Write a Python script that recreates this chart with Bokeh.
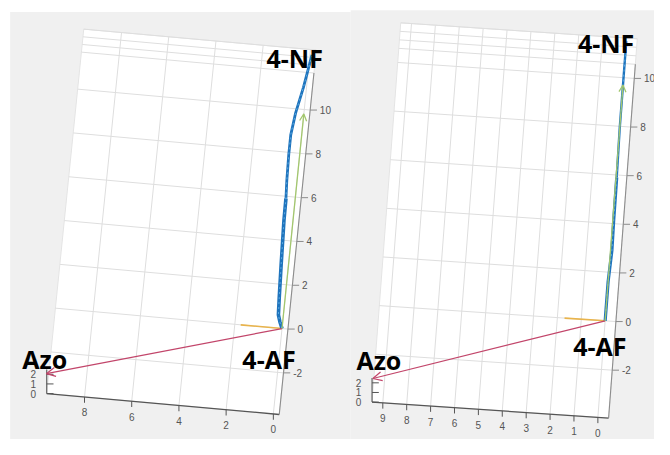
import numpy as np
from bokeh.plotting import figure
from bokeh.models import Range1d, Arrow, OpenHead
from bokeh.core.properties import value
from bokeh.embed import file_html
from bokeh.resources import INLINE

# ---------------- data ----------------
left_x_ticks = [0, 2, 4, 6, 8]
right_x_ticks = [0, 1, 2, 3, 4, 5, 6, 7, 8, 9]
z_ticks = [-2, 0, 2, 4, 6, 8, 10]
y_ticks = [0, 1, 2]

# 4-AF -> 4-NF trajectories (x, z)
left_path_z = [0.0, 0.3, 0.6, 1.4, 2.9, 4.9, 5.9, 6.7, 7.9, 8.8, 9.8, 11.0, 12.5]
left_path_x = [0.0, 0.12, 0.21, 0.25, 0.31, 0.38, 0.39, 0.43, 0.46, 0.46, 0.35, 0.13, -0.09]
right_path_z = [0.0, 1.6, 2.9, 4.1, 5.9, 7.9, 9.6, 11.5]
right_path_x = [0.0, 0.0, -0.06, -0.04, -0.03, 0.0, 0.0, 0.0]

# direction vectors from 4-AF (x, z)
left_azo = (9.7, -3.0)
right_azo = (9.49, -3.0)
left_yellow = (1.75, 0.0)
right_yellow = (1.7, 0.0)
left_green = (0.0, 9.8)
right_green = (0.0, 9.7)

labels = ["4-NF", "4-AF", "Azo"]

# ---------------- layout (screen projection of each 3-D panel) ----------------
LEFT = dict(o=(291, 340), ex=(-24.4, -2.2), ez=(2.3, -22.7), xz=-0.25, xmax=9.6,
            zmin=-3.9, ztop=11.69, band=0.35, ypx=10)
RIGHT = dict(o=(625, 332), ex=(-24.7, -1.67), ez=(1.9, -25.2), xz=-0.45, xmax=9.45,
             zmin=-3.97, ztop=10.58, band=0.35, ypx=10)

W, H = 654, 439
p = figure(width=W, height=H, output_backend="svg", toolbar_location=None,
           x_range=Range1d(0, 676), y_range=Range1d(455, 0),
           min_border=0, background_fill_color="white", border_fill_color="white")
p.axis.visible = False
p.grid.visible = False
p.outline_line_color = None

# panel backgrounds
p.quad(left=[10], right=[362], top=[12], bottom=[470], fill_color="#f0f0f0", line_color=None)
p.quad(left=[362], right=[700], top=[10], bottom=[470], fill_color="#f0f0f0", line_color=None)

GRID = "#dedede"
AX = "#555555"
ZAX = "#8c8c8c"
TICKC = "#555555"
TFONT = value("Liberation Sans")
BIG = value("Open Sans")


def make_proj(c):
    def proj(X, Z):
        X = np.asarray(X, dtype=float)
        Z = np.asarray(Z, dtype=float)
        return (c["o"][0] + X * c["ex"][0] + Z * c["ez"][0],
                c["o"][1] + X * c["ex"][1] + Z * c["ez"][1])
    return proj


def draw_panel(c, xticks, path_x, path_z, azo, yel, grn, lab_off, thick):
    proj = make_proj(c)
    xz, xmax, zmin, ztop, band = c["xz"], c["xmax"], c["zmin"], c["ztop"], c["band"]
    zedge = ztop + 3 * band
    # white box
    bx, by = proj([xz, xmax, xmax, xz], [zmin, zmin, zedge, zedge])
    p.patch(list(bx), list(by), fill_color="white", line_color="#e4e4e4", line_width=1)
    # vertical grid
    xs, ys = [], []
    for xv in xticks:
        gx, gy = proj([xv, xv], [zmin, zedge])
        xs.append(list(gx)); ys.append(list(gy))
    # horizontal grid
    for zv in z_ticks:
        gx, gy = proj([xz, xmax], [zv, zv])
        xs.append(list(gx)); ys.append(list(gy))
    # ceiling band lines
    for k in range(4):
        zv = ztop + k * band
        gx, gy = proj([xz, xmax], [zv, zv])
        xs.append(list(gx)); ys.append(list(gy))
    p.multi_line(xs, ys, line_color=GRID, line_width=1)

    # axes lines
    ax_x, ax_y = proj([xz, xmax], [zmin, zmin])
    p.line(list(ax_x), list(ax_y), line_color=AX, line_width=1.3)
    zx, zy = proj([xz, xz], [zmin, ztop])
    p.line(list(zx), list(zy), line_color=ZAX, line_width=1.1)
    yb_x, yb_y = proj([xmax], [zmin])
    yb_x, yb_y = float(yb_x[0]), float(yb_y[0])
    p.line([yb_x, yb_x], [yb_y, yb_y - 2.5 * c["ypx"]], line_color=AX, line_width=1.1)

    # z ticks
    tx, ty = proj([xz] * len(z_ticks), z_ticks)
    p.segment(x0=list(tx), y0=list(ty), x1=list(tx + 7), y1=list(ty), line_color=ZAX, line_width=1)
    p.text(x=list(tx + 10), y=list(ty), text=[str(v) for v in z_ticks], text_font=TFONT,
           text_font_size="10px", text_color=TICKC, text_align="left", text_baseline="middle")
    # x ticks
    tx, ty = proj(xticks, [zmin] * len(xticks))
    p.segment(x0=list(tx), y0=list(ty), x1=list(tx), y1=list(ty + 6), line_color=AX, line_width=1)
    p.text(x=list(tx), y=list(ty + 16), text=[str(v) for v in xticks], text_font=TFONT,
           text_font_size="10px", text_color=TICKC, text_align="center", text_baseline="middle")
    # y ticks
    yy = [yb_y - v * c["ypx"] for v in y_ticks]
    p.segment(x0=[yb_x] * 3, y0=yy, x1=[yb_x + 7] * 3, y1=yy, line_color=AX, line_width=1)
    p.text(x=[yb_x - 11] * 3, y=yy, text=[str(v) for v in y_ticks], text_font=TFONT,
           text_font_size="10px", text_color=TICKC, text_align="right", text_baseline="middle")

    # vectors
    ox, oy = proj([0.0], [0.0])
    ox, oy = float(ox[0]), float(oy[0])
    for vec, col, lw, hs in [(azo, "#c2456a", 1.2, 9), (yel, "#e9b44c", 1.6, 0), (grn, "#a3c76e", 1.3, 7)]:
        ex_, ey_ = proj([vec[0]], [vec[1]])
        ex_, ey_ = float(ex_[0]), float(ey_[0])
        if hs:
            p.add_layout(Arrow(x_start=ox, y_start=oy, x_end=ex_, y_end=ey_, line_color=col,
                               line_width=lw, end=OpenHead(size=hs, line_color=col, line_width=lw)))
        else:
            p.line([ox, ex_], [oy, ey_], line_color=col, line_width=lw)

    # trajectory (thicker near the start)
    cx, cy = proj(path_x, path_z)
    n = len(cx)
    h = n // 2 + 1
    p.line(list(cx[:h]), list(cy[:h]), line_color="#1f74bd", line_width=thick + 0.8, line_join="round")
    p.line(list(cx[h - 1:]), list(cy[h - 1:]), line_color="#1f74bd", line_width=thick, line_join="round")
    p.line(list(cx), list(cy), line_color="#5aa9e0", line_width=1, line_dash="2 3")

    # big labels
    nf_x, nf_y = float(cx[-1]), float(cy[-1])
    ax_, ay_ = proj([azo[0]], [azo[1]])
    pts = [(nf_x + lab_off[0][0], nf_y + lab_off[0][1]),
           (ox + lab_off[1][0], oy + lab_off[1][1]),
           (float(ax_[0]) + lab_off[2][0], float(ay_[0]) + lab_off[2][1])]
    p.text(x=[q[0] for q in pts], y=[q[1] for q in pts], text=labels, text_font=BIG,
           text_font_style="bold", text_font_size="25px", text_color="black",
           text_align="left", text_baseline="alphabetic")


draw_panel(LEFT, left_x_ticks, left_path_x, left_path_z, left_azo, left_yellow, left_green,
           lab_off=[(-47, 3), (-41, 32), (-25, -15)], thick=2.8)
draw_panel(RIGHT, right_x_ticks, right_path_x, right_path_z, right_azo, right_yellow, right_green,
           lab_off=[(-50, 2), (-33, 26), (-17, -19)], thick=2.4)

open("out.html", "w").write(file_html(p, INLINE))
